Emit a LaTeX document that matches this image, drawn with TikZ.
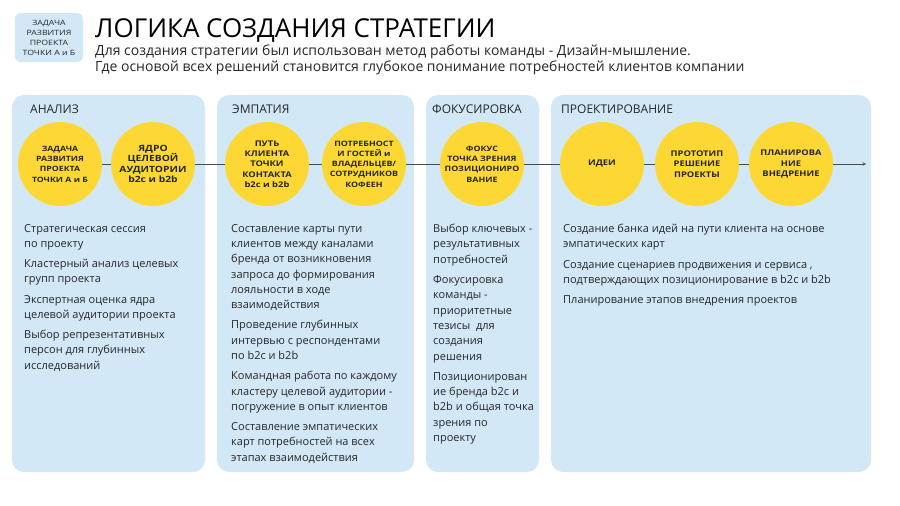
\documentclass[tikz,border=0pt]{standalone}
\usepackage{fontspec}
\setmainfont{Open Sans}
\newfontfamily\widefont[FakeStretch=1.2]{Open Sans}
\definecolor{panelblue}{HTML}{D3E8F7}
\definecolor{sunny}{HTML}{FDD835}
\definecolor{ink}{HTML}{262626}
\definecolor{wire}{HTML}{4A4A4A}
\newcommand{\bb}{b2c и b2b}

\begin{document}
\begin{tikzpicture}[x=1pt,y=-1pt,>=stealth,
    panel/.style={fill=panelblue, rounded corners=12pt},
    stage/.style={circle, fill=sunny, minimum size=84pt, inner sep=0pt, align=center,
        font=\widefont\fontsize{#1}{10.3}\selectfont\bfseries, text=ink},
    stage/.default=7.8,
    phase/.style={anchor=west, inner sep=0pt, font=\fontsize{12}{14}\selectfont, text=ink},
    items/.style={anchor=north west, inner sep=0pt, align=left,
        font=\fontsize{11}{15.33}\selectfont, text=ink}]
    \useasboundingbox (0,0) rectangle (900,506);

    % header
    \fill[panelblue, rounded corners=6pt] (15,13) rectangle (83,62);
    \node[align=center, text=ink, font=\widefont\fontsize{7.3}{10}\selectfont] (task) at (49,38)
        {ЗАДАЧА\\РАЗВИТИЯ\\ПРОЕКТА\\ТОЧКИ А и Б};
    \node[anchor=base west, inner sep=0pt, text=black, font=\fontsize{26}{28}\selectfont] (title) at (95,37)
        {ЛОГИКА СОЗДАНИЯ СТРАТЕГИИ};
    \node[anchor=base west, inner sep=0pt, text=ink, font=\fontsize{14}{16}\selectfont] (lead) at (95,55)
        {Для создания стратегии был использован метод работы команды - Дизайн-мышление.};
    \node[anchor=base west, inner sep=0pt, text=ink, font=\fontsize{14}{16}\selectfont] (lead2) at (95,71)
        {Где основой всех решений становится глубокое понимание потребностей клиентов компании};

    % panels
    \fill[panel] (12,95) rectangle (205,472);
    \fill[panel] (217,95) rectangle (414,472);
    \fill[panel] (426,95) rectangle (539,472);
    \fill[panel] (551,95) rectangle (871,472);

    \node[phase] (analysis) at (30,109) {АНАЛИЗ};
    \node[phase] (empathy) at (232,109) {ЭМПАТИЯ};
    \node[phase] (focus) at (432,109) {ФОКУСИРОВКА};
    \node[phase] (design) at (561,109) {ПРОЕКТИРОВАНИЕ};

    % stages
    \node[stage=7.3] (s1) at (60,164) {ЗАДАЧА\\РАЗВИТИЯ\\ПРОЕКТА\\ТОЧКИ А и Б};
    \node[stage=8.6] (s2) at (153,164) {ЯДРО\\ЦЕЛЕВОЙ\\АУДИТОРИИ\\\bb};
    \node[stage] (s3) at (267,164) {ПУТЬ\\КЛИЕНТА\\ТОЧКИ\\КОНТАКТА\\\bb};
    \node[stage=7.4] (s4) at (364,164) {ПОТРЕБНОСТ\\И ГОСТЕЙ и\\ВЛАДЕЛЬЦЕВ/\\СОТРУДНИКОВ\\КОФЕЕН};
    \node[stage=7.4] (s5) at (482,164) {ФОКУС\\ТОЧКА ЗРЕНИЯ\\ПОЗИЦИОНИРО\\ВАНИЕ};
    \node[stage] (s6) at (602,164) {ИДЕИ};
    \node[stage] (s7) at (697,164) {ПРОТОТИП\\РЕШЕНИЕ\\ПРОЕКТЫ};
    \node[stage] (s8) at (791,164) {ПЛАНИРОВА\\НИЕ\\ВНЕДРЕНИЕ};
    \coordinate (tip) at (866,164);
    \draw[wire, semithick] (s1) -- (s2) -- (s3) -- (s4) -- (s5) -- (s6) -- (s7) -- (s8);
    \draw[wire, semithick, ->] (s8) -- (tip);

    % texts
    \node[items] (t1) at (24,224) {Стратегическая сессия\\по проекту\\[4.8pt]
        Кластерный анализ целевых\\групп проекта\\[4.8pt]
        Экспертная оценка ядра\\целевой аудитории проекта\\[4.8pt]
        Выбор репрезентативных\\персон для глубинных\\исследований};
    \node[items] (t2) at (231,224) {Составление карты пути\\клиентов между каналами\\бренда от возникновения\\запроса до формирования\\лояльности в ходе\\взаимодействия\\[4.8pt]
        Проведение глубинных\\интервью с респондентами\\по \bb\\[4.8pt]
        Командная работа по каждому\\кластеру целевой аудитории -\\погружение в опыт клиентов\\[4.8pt]
        Составление эмпатических\\карт потребностей на всех\\этапах взаимодействия};
    \node[items] (t3) at (433,224) {Выбор ключевых -\\результативных\\потребностей\\[4.8pt]
        Фокусировка\\команды -\\приоритетные\\тезисы\ \ для\\создания\\решения\\[4.8pt]
        Позиционирован\\ие бренда b2c и\\b2b и общая точка\\зрения по\\проекту};
    \node[items] (t4) at (563,224) {Создание банка идей на пути клиента на основе\\эмпатических карт\\[4.8pt]
        Создание сценариев продвижения и сервиса ,\\подтверждающих позиционирование в \bb\\[4.8pt]
        Планирование этапов внедрения проектов};
\end{tikzpicture}
\end{document}
